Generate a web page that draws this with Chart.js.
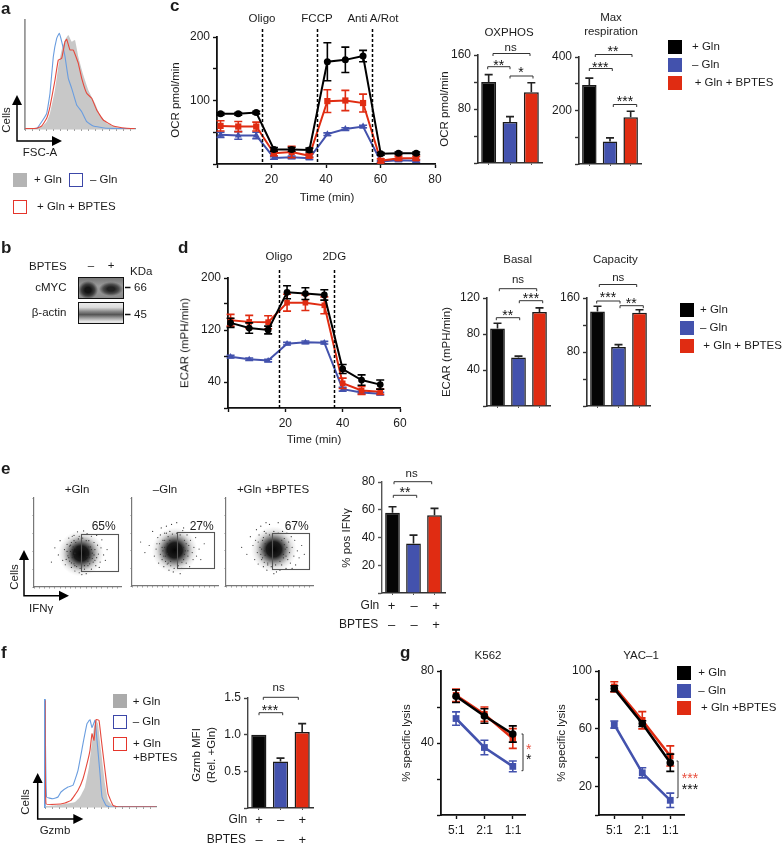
<!DOCTYPE html>
<html><head><meta charset="utf-8">
<script src="https://cdn.jsdelivr.net/npm/chart.js@4"></script>
<style>
html,body{margin:0;padding:0;background:#fff}
#page{position:relative;width:782px;height:844px;overflow:hidden;font-family:"Liberation Sans",Arial,sans-serif;color:#1c1c1c;filter:blur(.35px)}
canvas{position:absolute}
.t{position:absolute;white-space:nowrap;line-height:1;font-size:11.5px}
.b{position:absolute;box-sizing:border-box}
svg{position:absolute;left:0;top:0;pointer-events:none}
</style></head><body><div id="page"></div>
<script>
/* ---------- data ---------- */
const BLACK='#050505',BLUE='#4352ad',RED='#e02c12',EDGE='#1a1a1a';
const groups=['+ Gln','– Gln','+ Gln + BPTES'];
const barColors=[BLACK,BLUE,RED];

/* a: FSC-A histogram */
const fscGreyX=[0,11.7,16.7,21.7,25,30,33.3,36.7,40,43.3,46.7,50,53.3,58.3,63.3,70,75,81.7,91.7,101.7,110];
const fscGreyY=[0,0.7,2.3,7.3,15.7,39,62.3,79,89,94,87.3,89,72.3,54,39,25.7,14,5.7,1.7,0.3,0];
const fscBlueX=[0,11.7,16.7,21.7,25,28.3,31.7,34.3,36.7,40,43.3,46.7,51.7,56.7,61.7,68.3,81.7,110];
const fscBlueY=[0.5,0.7,7.3,15.7,35.7,72.3,90.7,95.7,87.3,72.3,50.7,40.7,24,17.3,7.3,3,0.7,0.3];
const fscRedX=[0,11.7,16.7,21.7,25,30,33.3,36.7,40,41.7,45,48.3,53.3,56.7,61.7,66.7,71.7,78.3,88.3,101.7,110];
const fscRedY=[0.3,0.7,3,10.7,22.3,49,69,70.7,87.3,89.7,79,79,65.7,50.7,35.7,30.7,19,9,3,0.7,0.3];

/* c: oxygen consumption */
const ocrTime=[1.3,7.8,14.4,20.9,27.4,33.9,40.5,47.1,53.6,60.1,66.6,73.1];
const ocrGln=[79,79,81,23,23,22,161,164,170,16,17,17];
const ocrGlnErr=[2,2,2,3,3,3,30,20,9,2,2,2];
const ocrBptes=[60,59,59,17,19,13,99,100,96,5,9,9];
const ocrBptesErr=[8,8,7,4,9,3,18,16,14,3,3,3];
const ocrNoGln=[46,45,45,9.5,10.5,9,47,55,59,4,6,5];
const ocrNoGlnErr=[4,6,5,2,2,2,2,2,2,1,2,2];
const ocrInjections=[16.6,36.7,56.9];
const ocrInjectionNames=['Oligo','FCCP','Anti A/Rot'];
const oxphos=[120,60.7,105], oxphosErr=[11,8,14];
const maxResp=[295,84,175], maxRespErr=[26,13.5,22];

/* d: extracellular acidification */
const ecarTime=[0.9,7.4,14,20.6,27,33.6,40,46.6,53.1];
const ecarGln=[131,123,120,178,176,174,60,43,36];
const ecarGlnErr=[7,8,6,10,9,8,7,8,7];
const ecarBptes=[135,132.5,132,162,162,158,38,27,25];
const ecarBptesErr=[9,10,10,13,12,13,8,6,4];
const ecarNoGln=[79,75,73,99,101,100.5,29,24,22];
const ecarNoGlnErr=[2,2,2,2,2,2,3,2,2];
const ecarInjections=[17.8,37.1];
const ecarInjectionNames=['Oligo','2DG'];
const basal=[86,54,104.5], basalErr=[6,1.4,4.5];
const capacity=[140,87.4,138], capacityErr=[7.7,3.6,4.7];

/* e: IFNγ flow cytometry, gate bounds and density centre in plot units */
const ifnTitles=['+Gln','–Gln','+Gln +BPTES'];
const ifnPercent=['65%','27%','67%'];
const ifnGates=[[54.2,96.5,18.5,59.8],[52.3,95.3,20,61.2],[53.2,95.4,19.2,60.5]];
const ifnCentres=[[54,37.7],[49.6,40.6],[55,41.7]];
const ifnEvents1=[[20,28],[24,44],[28,36],[30,52],[33,30],[35,42],[36,25],[38,48],[39,35],[40,55],[41,29],[42,40],[43,22],[43,50],[44,33],[45,45],[46,26],[46,58],[47,38],[47,18],[48,50],[49,30],[60,15],[61,60],[62,24],[63,52],[64,33],[65,45],[66,20],[66,57],[67,38],[68,28],[69,50],[70,42],[71,24],[72,33],[73,47],[74,37],[76,28],[77,44],[78,53],[80,36],[82,30],[84,42],[52,16],[55,14],[50,62],[57,63],[58,20],[52,57],[72,58],[75,22],[37,31],[41,46],[44,57],[70,30],[38,40],[40,33],[42,47],[43,27],[44,42],[46,52],[47,24],[48,44],[49,23],[51,54],[53,21],[56,55],[58,24],[60,52],[62,29],[63,45],[64,26],[66,42],[67,32],[69,36],[45,35],[61,34]];
const ifnEvents2=[[10,50],[15,38],[20,46],[24,62],[26,34],[28,42],[30,55],[31,26],[32,48],[33,36],[34,66],[35,30],[36,52],[37,22],[38,44],[38,60],[39,34],[40,68],[41,25],[42,56],[43,18],[44,62],[45,28],[46,70],[58,20],[59,63],[60,30],[61,52],[62,40],[63,26],[64,58],[65,34],[66,46],[67,22],[68,52],[70,38],[71,30],[72,44],[74,55],[75,34],[78,42],[80,30],[84,48],[33,58],[29,48],[36,40],[48,16],[52,72],[56,14],[60,66],[35,44],[37,34],[38,52],[39,28],[40,60],[41,37],[42,26],[44,52],[45,23],[47,59],[49,20],[52,60],[54,23],[56,58],[58,27],[60,44],[61,36],[63,48],[65,40],[41,48]];
const ifnEvents3=[[18,44],[24,36],[28,56],[31,46],[33,30],[34,52],[35,64],[36,38],[37,25],[38,58],[39,44],[40,68],[41,30],[42,52],[43,22],[44,62],[45,35],[46,72],[47,18],[48,26],[50,70],[64,24],[65,62],[66,32],[67,54],[68,42],[69,20],[70,60],[71,30],[72,50],[73,38],[74,26],[75,56],[76,44],[78,34],[79,52],[80,24],[82,40],[84,32],[87,46],[90,36],[58,16],[60,72],[55,14],[62,18],[40,36],[37,50],[76,20],[70,66],[41,42],[42,32],[43,55],[44,27],[45,48],[46,60],[48,24],[50,58],[52,22],[55,62],[57,24],[60,60],[62,28],[64,52],[66,36],[67,47],[69,34],[70,44],[44,40]];
const ifnPositive=[57.8,35.7,56], ifnPositiveErr=[4.4,6,5];
const glnSigns=['+','–','+'], bptesSigns=['–','–','+'];

/* f: granzyme B */
const gzmGreyX=[0,11,21,30,35,40,44,46,49,51,53,56,60,63,68,75,111];
const gzmGreyY=[0.7,1.7,3.3,5,10,20,40,56.7,80,86.7,83.3,56.7,23.3,6.7,1,0,0];
const gzmBlueX=[0,1.5,8,13,16,23,28,33,38,42,45,47,50,52,55,57,61,65,111];
const gzmBlueY=[106.7,10,8.3,10,15,20,21.7,36.7,63.3,83.3,87.3,79.3,86.7,66.7,33.3,10,1.7,0,0];
const gzmRedX=[0,1,11,20,26,33,38,42,45,47,49,51,54,56,60,63,68,73,111];
const gzmRedY=[106.7,3.3,2.7,4,6.7,16.7,28.3,43.3,56.7,73.3,66.7,87.3,86.7,70,36.7,13.3,1.7,0,0];
const gzmbMfi=[1,0.635,1.035], gzmbMfiErr=[0,0.045,0.115];

/* g: specific lysis */
const ratios=['5:1','2:1','1:1'];
const k562Gln=[66,55,45], k562GlnErr=[3.5,4,4.5];
const k562Bptes=[66.5,56,42.5], k562BptesErr=[3.5,4,5.5];
const k562NoGln=[53.6,37.5,27], k562NoGlnErr=[3.7,4,3];
const yacGln=[87.8,63.5,36.3], yacGlnErr=[2,2,6];
const yacBptes=[89,65.8,41], yacBptesErr=[3.5,6,7];
const yacNoGln=[62.8,29.3,10.2], yacNoGlnErr=[2.5,3.5,5];

/* ---------- helpers ---------- */
const page=document.getElementById('page');
const NS='http://www.w3.org/2000/svg';
const FONT={family:'"Liberation Sans", Arial, sans-serif',size:12};
const ML=42,MB=28,MT=12,MR=14;

Chart.register({
  id:'whiskers',
  afterDatasetDraw(chart,args){
    const ds=chart.data.datasets[args.index]; if(!ds.err) return;
    const meta=chart.getDatasetMeta(args.index), y=chart.scales.y, c=chart.ctx;
    c.save(); c.strokeStyle=ds.whiskerColor||ds.borderColor; c.lineWidth=ds.whiskerWidth||1.6;
    meta.data.forEach((el,i)=>{
      const raw=ds.data[i], v=typeof raw==='object'?raw.y:raw, e=ds.err[i]; if(!e) return;
      const t=y.getPixelForValue(v+e), b=ds.upOnly?y.getPixelForValue(v):y.getPixelForValue(v-e), h=ds.cap||4;
      c.beginPath(); c.moveTo(el.x,t); c.lineTo(el.x,b); c.moveTo(el.x-h,t); c.lineTo(el.x+h,t);
      if(!ds.upOnly){c.moveTo(el.x-h,b); c.lineTo(el.x+h,b);} c.stroke();
    });
    c.restore();
  }
});
Chart.register({
  id:'injections',
  afterDraw(chart,a,o){
    if(!o.at) return; const c=chart.ctx,x=chart.scales.x;
    c.save(); c.strokeStyle='#000'; c.lineWidth=1.5; c.setLineDash([3,2]);
    o.at.forEach(v=>{const p=Math.round(x.getPixelForValue(v))+.5; c.beginPath(); c.moveTo(p,chart.chartArea.top-o.rise); c.lineTo(p,chart.chartArea.bottom); c.stroke();});
    c.restore();
  }
});
Chart.register({
  id:'gate',
  beforeDatasetsDraw(chart,a,o){
    if(!o.centre) return; const c=chart.ctx,x=chart.scales.x,y=chart.scales.y;
    const px=x.getPixelForValue(o.centre[0]),py=y.getPixelForValue(o.centre[1]),R=23;
    const g=c.createRadialGradient(px,py,0,px,py,R);
    g.addColorStop(0,'rgba(5,5,5,1)');g.addColorStop(.33,'rgba(15,15,15,.95)');g.addColorStop(.55,'rgba(50,50,50,.58)');g.addColorStop(.78,'rgba(110,110,110,.2)');g.addColorStop(1,'rgba(170,170,170,0)');
    c.save();c.fillStyle=g;c.beginPath();c.arc(px,py,R,0,7);c.fill();c.restore();
  },
  afterDraw(chart,a,o){
    if(!o.box) return; const c=chart.ctx,x=chart.scales.x,y=chart.scales.y,b=o.box;
    const l=x.getPixelForValue(b[0]),r=x.getPixelForValue(b[1]),bt=y.getPixelForValue(b[2]),t=y.getPixelForValue(b[3]);
    c.save();c.strokeStyle='#555';c.lineWidth=1.1;c.strokeRect(Math.round(l)+.5,Math.round(t)+.5,Math.round(r-l),Math.round(bt-t));c.restore();
  }
});

function axis(o){
  return Object.assign({
    type:'linear',position:o.pos,min:o.min,max:o.max,offset:false,
    afterFit:s=>{ if(o.pos==='left') s.width=ML; else s.height=MB; },
    border:{color:o.color||'#111',width:o.width||1.8,display:true},
    grid:{drawOnChartArea:false,drawTicks:o.tick!==0,tickLength:o.tick===undefined?4:o.tick,tickColor:o.color||'#111',tickWidth:o.tickW||1.4,offset:false},
    ticks:{display:!!o.labels,stepSize:o.step,autoSkip:false,maxRotation:0,minRotation:0,padding:o.pad||3,color:'#1c1c1c',font:FONT,includeBounds:false,
      callback:o.labels?(v=>o.labels.includes(v)?(o.digits?v.toFixed(o.digits):String(v)):''):undefined}
  },o.extra||{});
}
function place(canvas,x0,x1,yt,yb){
  const W=Math.round(x1-x0),H=Math.round(yb-yt);
  canvas.width=W+ML+MR; canvas.height=H+MT+MB;
  canvas.style.left=(Math.round(x0)-ML)+'px'; canvas.style.top=(Math.round(yt)-MT)+'px';
  canvas.style.width=(W+ML+MR)+'px'; canvas.style.height=(H+MT+MB)+'px';
  page.appendChild(canvas);
}
function make(box,type,data,scales,plugins){
  const cv=document.createElement('canvas'); place(cv,box[0],box[1],box[2],box[3]);
  return new Chart(cv,{type,data,options:{responsive:false,animation:false,devicePixelRatio:1,
    layout:{padding:{top:MT,right:MR,left:0,bottom:0}},
    plugins:Object.assign({legend:{display:false},tooltip:{enabled:false},title:{display:false}},plugins||{}),
    scales}});
}
const zip=(xs,ys)=>xs.map((x,i)=>({x,y:ys[i]}));
function hist(box,grey,blue,red,xmax,ymax,color){
  const mk=(d,col,fill)=>({data:d,borderColor:fill?'rgba(0,0,0,0)':col,backgroundColor:col,fill:fill?'origin':false,borderWidth:fill?0:1.1,pointRadius:0,tension:.1});
  make(box,'line',{datasets:[mk(red,'#e5483c'),mk(blue,'#6a9ddf'),mk(grey,'#c8c8c8',true)]},{
    x:axis({pos:'bottom',min:0,max:xmax,step:7,color:'#888',width:1.2,tick:2,tickW:.8}),
    y:axis({pos:'left',min:0,max:ymax,step:ymax,color:color,width:1.8,tick:0})
  });
}
function lineSet(d,err,color,style,r,w){
  return {data:d,err,borderColor:color,backgroundColor:color,pointBackgroundColor:color,pointBorderColor:color,pointBorderWidth:0,pointStyle:style,pointRadius:r,borderWidth:w,tension:0,clip:false};
}
function bars(box,vals,errs,yOpt){
  make(box,'bar',{labels:groups,datasets:[{data:vals,err:errs,upOnly:true,whiskerColor:'#222',backgroundColor:barColors,borderColor:EDGE,borderWidth:1.5,barPercentage:.7,categoryPercentage:1,cap:4}]},{
    x:{type:'category',position:'bottom',offset:true,afterFit:s=>{s.height=MB},border:{color:'#333',width:1.6},grid:{drawOnChartArea:false,tickLength:2,tickColor:'#555',offset:false},ticks:{display:false}},
    y:axis(Object.assign({pos:'left',color:'#333',width:1.6,tick:4},yOpt))
  });
}
function T(s,x,y,o){
  o=o||{}; const d=document.createElement('div'); d.className='t'; d.textContent=s;
  if(o.rot){x=Math.round(x);y=Math.round(y);}
  d.style.left=x+'px'; d.style.top=y+'px';
  const ax=o.a==='l'?'0':o.a==='r'?'-100%':'-50%';
  d.style.transform=`translate(${ax},-50%)`+(o.rot?' rotate(-90deg)':'');
  if(o.size) d.style.fontSize=o.size+'px';
  if(o.bold) d.style.fontWeight='bold';
  if(o.color) d.style.color=o.color;
  page.appendChild(d);
}
function box(x,y,w,h,fill,stroke){
  const d=document.createElement('div'); d.className='b';
  Object.assign(d.style,{left:x+'px',top:y+'px',width:w+'px',height:h+'px',background:fill||'transparent'});
  if(stroke) d.style.border='1.5px solid '+stroke;
  page.appendChild(d); return d;
}
const svg=document.createElementNS(NS,'svg'); svg.setAttribute('width',782); svg.setAttribute('height',844);
function path(dv,col,w,fill){const p=document.createElementNS(NS,'path');p.setAttribute('d',dv);p.setAttribute('stroke',col||'none');p.setAttribute('stroke-width',w||1);p.setAttribute('fill',fill||'none');svg.appendChild(p);}
function bracket(x1,x2,y){path(`M${x1} ${y+2.5}V${y}H${x2}V${y+2.5}`,'#333',1);}
function stars(s,x,y,col){T(s,x,y+3,{size:14,color:col||'#111'});}
function arrows(x,y,top,right){
  path(`M${x} ${top+9}V${y}H${right-9}`,'#000',1.5);
  path(`M${x} ${top}l5 10h-10z`,null,0,'#000');
  path(`M${right} ${y}l-10 -5v10z`,null,0,'#000');
}
function legend3(xBox,ys,size,xTxt,xTxt3,names){
  barColors.forEach((c,i)=>box(xBox,ys[i],size,size,c==BLACK?'#000':c));
  T(names[0],xTxt,ys[0]+size/2,{a:'l'});T(names[1],xTxt,ys[1]+size/2,{a:'l'});T(names[2],xTxt3,ys[2]+size/2,{a:'l'});
}

/* ---------- panel a ---------- */
hist([25,135,20,129],zip(fscGreyX,fscGreyY),zip(fscBlueX,fscBlueY),zip(fscRedX,fscRedY),110,109,'#999');
arrows(17,141,95,62);
T('a',1,8,{a:'l',size:17,bold:true});
T('Cells',7,120,{rot:true});T('FSC-A',40,153);
box(13,173,14,14,'#b4b4b4');T('+ Gln',34,180,{a:'l'});
box(69,173,14,14,null,'#3c47a8');T('– Gln',90,180,{a:'l'});
box(13,200,14,14,null,'#e5352b');T('+ Gln + BPTES',37,207,{a:'l'});

/* ---------- panel b ---------- */
T('b',1,247,{a:'l',size:17,bold:true});
T('BPTES',29,267,{a:'l'});T('–',91,266);T('+',111,266);T('KDa',130,272,{a:'l'});
T('cMYC',66.5,288,{a:'r'});T('β-actin',66.5,313,{a:'r'});
const blot1=box(78,277,46,21.5,null,'#111');
blot1.style.background='radial-gradient(ellipse 10px 9px at 9px 12px,#141414 30%,rgba(40,40,40,.8) 65%,rgba(90,90,90,0)),radial-gradient(ellipse 12px 7px at 32px 11px,#222 30%,rgba(50,50,50,.75) 65%,rgba(90,90,90,0)),linear-gradient(#777,#9a9a9a 40%,#8a8a8a)';
const blot2=box(78,302,46,21.5,null,'#111');
blot2.style.background='linear-gradient(#ececec 0,#dcdcdc 22%,#8a8a8a 42%,#555 58%,#9a9a9a 74%,#e4e4e4 92%)';
T('66',134,288,{a:'l'});T('45',134,315,{a:'l'});
path('M125 287.5H130.5M125 314.5H130.5','#111',1.6);

/* ---------- panel c ---------- */
T('c',170,5,{a:'l',size:17,bold:true});
make([217,435,37,164],'line',{datasets:[
  lineSet(zip(ocrTime,ocrGln),ocrGlnErr,'#000','circle',3.5,2),
  lineSet(zip(ocrTime,ocrBptes),ocrBptesErr,RED,'rect',4.4,2),
  lineSet(zip(ocrTime,ocrNoGln),ocrNoGlnErr,BLUE,'triangle',4,2)]},{
  x:axis({pos:'bottom',min:0,max:80,step:20,labels:[20,40,60,80],pad:4}),
  y:axis({pos:'left',min:0,max:200,step:50,labels:[100,200]})
},{injections:{at:ocrInjections,rise:8}});
T(ocrInjectionNames[0],262,19);T(ocrInjectionNames[1],317,19);T(ocrInjectionNames[2],373,19);
T('OCR pmol/min',175.5,100,{rot:true});T('Time (min)',327,198);
bars([478,542,55,163],oxphos,oxphosErr,{min:0,max:160,step:40,labels:[80,160]});
bars([579,641,57,164],maxResp,maxRespErr,{min:0,max:400,step:100,labels:[200,400]});
T('OCR pmol/min',445,109,{rot:true});
T('OXPHOS',509,32.5);T('Max',611,18);T('respiration',611,32);
bracket(493,530,53.5);T('ns',510.7,47.5);
bracket(487.7,510,66.7);stars('**',498.7,62);
bracket(510,533,76);stars('*',521,69);
bracket(595.3,632,54.5);stars('**',613,48);
bracket(589.3,612.3,68.5);stars('***',600.3,63.5);
bracket(613.3,636.7,104.5);stars('***',625,97.5);
legend3(668,[40,58,76],14,692,694.7,groups);

/* ---------- panel d ---------- */
T('d',178,247,{a:'l',size:17,bold:true});
make([228,400,278,407.5],'line',{datasets:[
  lineSet(zip(ecarTime,ecarGln),ecarGlnErr,'#000','circle',3.4,2),
  lineSet(zip(ecarTime,ecarBptes),ecarBptesErr,RED,'rect',4,2),
  lineSet(zip(ecarTime,ecarNoGln),ecarNoGlnErr,BLUE,'triangle',3.6,2)]},{
  x:axis({pos:'bottom',min:0,max:60,step:20,labels:[20,40,60],pad:4}),
  y:axis({pos:'left',min:0,max:200,step:40,labels:[40,120,200]})
},{injections:{at:ecarInjections,rise:8}});
T(ecarInjectionNames[0],279,257);T(ecarInjectionNames[1],334.3,257);
T('ECAR (mPH/min)',185,343,{rot:true});T('Time (min)',314,440);
bars([487,550,297.5,405],basal,basalErr,{min:0,max:120,step:40,labels:[40,80,120]});
bars([587,650,297.5,405.5],capacity,capacityErr,{min:0,max:160,step:40,labels:[80,160]});
T('ECAR (mPH/min)',447,352,{rot:true});
T('Basal',517.7,259.5);T('Capacity',615.3,259.5);
bracket(499.3,536.7,288.7);T('ns',518,279.5);
bracket(496.3,519.7,317.7);stars('**',507.7,311.5);
bracket(519.3,542.7,300.7);stars('***',531,295);
bracket(599.3,636.7,284.5);T('ns',618.3,277.5);
bracket(596.7,620,301);stars('***',608,293.5);
bracket(620,643.3,305.7);stars('**',631.3,299.5);
legend3(680,[303,321,339],14,700,703.3,groups);

/* ---------- panel e ---------- */
T('e',1,468,{a:'l',size:17,bold:true});
[[34,121,498,586.5,ifnEvents1],[132,218,498,586,ifnEvents2],[226,313,498,586,ifnEvents3]].forEach((p,i)=>{
  make(p.slice(0,4),'scatter',{datasets:[{data:p[4].map(e=>({x:e[0],y:e[1]})),backgroundColor:'#333',borderWidth:0,pointBorderWidth:0,pointRadius:.6,clip:false}]},{
    x:axis({pos:'bottom',min:0,max:100,step:6,color:'#777',width:1.2,tick:1.5,tickW:.8}),
    y:axis({pos:'left',min:0,max:100,step:20,color:'#777',width:1.2,tick:1.5,tickW:.8})
  },{gate:{centre:ifnCentres[i],box:ifnGates[i]}});
});
ifnTitles.forEach((s,i)=>T(s,[77,165,273][i],489.5));
ifnPercent.forEach((s,i)=>T(s,[103.7,201.7,296.7][i],526,{size:12}));
arrows(24,595.7,550,69);
T('Cells',14.5,577,{rot:true});T('IFNγ',29,609,{a:'l'});
bars([382,445,482,592.5],ifnPositive,ifnPositiveErr,{min:0,max:80,step:20,labels:[20,40,60,80],color:'#555',width:1.4});
T('% pos IFNγ',346.7,538,{rot:true});
bracket(394,431.7,481.7);T('ns',411.7,473.5);
bracket(393.3,416.7,495.3);stars('**',405,489);
T('Gln',379.3,604.5,{a:'r',size:12});T('BPTES',378.3,623.5,{a:'r',size:12});
[391.5,414,436].forEach((x,i)=>{T(glnSigns[i],x,604.5,{size:13});T(bptesSigns[i],x,623.5,{size:13});});

/* ---------- panel f ---------- */
T('f',1,652,{a:'l',size:17,bold:true});
hist([45,156,700,807],zip(gzmGreyX,gzmGreyY),zip(gzmBlueX,gzmBlueY),zip(gzmRedX,gzmRedY),111,107,'#6a9ddf');
arrows(37.7,819,773,83.3);
T('Cells',26,802,{rot:true});T('Gzmb',55,831);
box(113,694,14,14,'#ababab');T('+ Gln',132.7,701.5,{a:'l'});
box(113,715,14,14,null,'#3c47a8');T('– Gln',132.7,721.5,{a:'l'});
box(113,737,14,14,null,'#e5352b');T('+ Gln',133,744,{a:'l'});T('+BPTES',133,757.5,{a:'l'});
bars([248,313,698,807.5],gzmbMfi,gzmbMfiErr,{min:0,max:1.5,step:.5,labels:[.5,1,1.5],digits:1,color:'#444',width:1.4});
T('Gzmb MFI',197.3,755,{rot:true});T('(Rel. +Gln)',211.7,755,{rot:true});
bracket(263.3,298.3,697.3);T('ns',278.7,687.5);
bracket(259,282.7,712.7);stars('***',270,707);
T('Gln',247.3,819,{a:'r',size:12});T('BPTES',246,839,{a:'r',size:12});
[259,280.7,302.3].forEach((x,i)=>{T(glnSigns[i],x,819,{size:13});T(bptesSigns[i],x,839,{size:13});});

/* ---------- panel g ---------- */
T('g',400,652,{a:'l',size:17,bold:true});
function lysis(bx,min,max,ymax,yStep,yLabels,sets,yTitle){
  const idx=[0,1,2];
  make(bx,'line',{datasets:[
    Object.assign(lineSet(zip(idx,sets[0]),sets[1],'#000','circle',3.8,2.6),{cap:4}),
    Object.assign(lineSet(zip(idx,sets[2]),sets[3],RED,'rect',4.6,2.6),{cap:4}),
    Object.assign(lineSet(zip(idx,sets[4]),sets[5],BLUE,'rect',4.8,2.6),{cap:4})]},{
    x:axis({pos:'bottom',min,max,step:1,extra:{afterBuildTicks:s=>{s.ticks=idx.map(v=>({value:v}));}}}),
    y:axis({pos:'left',min:0,max:ymax,step:yStep,labels:yLabels,extra:yTitle?{title:{display:true,text:yTitle,color:'#1c1c1c',font:{family:FONT.family,size:11.5},padding:{top:1,bottom:0}}}:{}})
  });
}
lysis([441,525,671,815],-0.53,2.43,80,20,[40,80],[k562Gln,k562GlnErr,k562Bptes,k562BptesErr,k562NoGln,k562NoGlnErr],'% specific lysis');
lysis([599,684,671,815],-0.546,2.49,100,20,[20,60,100],[yacGln,yacGlnErr,yacBptes,yacBptesErr,yacNoGln,yacNoGlnErr]);
[456.3,484.7,513].forEach((x,i)=>T(ratios[i],x,830,{size:12}));
[614.3,642.3,670.3].forEach((x,i)=>T(ratios[i],x,830,{size:12}));
T('K562',488,655.5);T('YAC–1',641,655.5);
T('% specific lysis',562,743,{rot:true});
path('M521.5 734H523V770.7H521.5','#333',1);
path('M676.5 761H678V797.7H676.5','#333',1);
stars('*',528.7,746,'#e8503f');stars('*',528.7,756);
stars('***',690,775,'#e8503f');stars('***',690,785.5);
legend3(676.5,[665.5,683.5,701],14,698.3,701,['+ Gln','– Gln','+ Gln +BPTES']);

page.appendChild(svg);
</script></body></html>
